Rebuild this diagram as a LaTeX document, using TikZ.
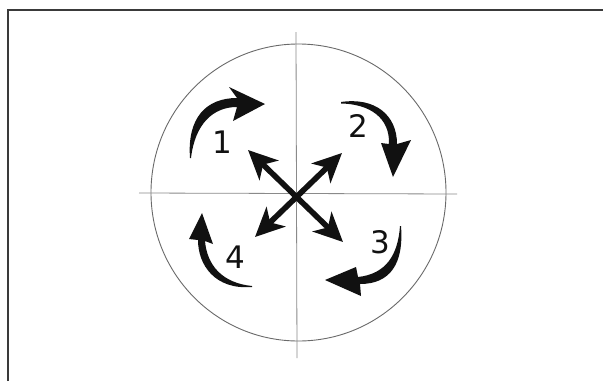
\documentclass[tikz,border=0pt]{standalone}
\usepackage{fontspec}
\setmainfont{DejaVu Sans}
\usepackage{tikz}
\usetikzlibrary{arrows.meta}
\definecolor{AxisGray}{HTML}{8A8A8A}
\definecolor{RimGray}{HTML}{6A6A6A}
\definecolor{FrameDark}{HTML}{3A3A3A}
\definecolor{InkBlack}{HTML}{111111}

\begin{document}
\begin{tikzpicture}[x=1pt, y=-1pt,
    digit/.style={inner sep=0pt, text=InkBlack, font=\fontsize{31}{31}\selectfont},
    crossarrow/.style={InkBlack, line width=5.6pt,
      {Stealth[length=29pt, width=27pt, inset=8pt]}-{Stealth[length=29pt, width=27pt, inset=8pt]}},
    swirl/.style={fill=InkBlack, draw=none}]
        \useasboundingbox (0,0) rectangle (603,381);
        \fill[white] (0,0) rectangle (603,381);
        % frame, only top and left edges visible
        \draw[FrameDark, line width=1.1pt] (8,381) -- (8,10) -- (603,10);
        % rim and axes
        \draw[RimGray, line width=0.9pt] (298.5,192.5) ellipse (147.5 and 148.5);
        \draw[AxisGray, line width=0.8pt] (296,32) -- (297,358);
        \draw[AxisGray, line width=0.8pt] (139,193) -- (457,194);
        % end points of the crossed arrows
        \coordinate (nw) at (248,150);
        \coordinate (se) at (343,242);
        \coordinate (ne) at (342,153);
        \coordinate (sw) at (255,237);
        \draw[crossarrow] (nw) -- (se);
        \draw[crossarrow] (ne) -- (sw);
        % curved arrow 1 (upper left)
        \fill[swirl] (190,158) .. controls (187,118) and (206,98) .. (237,98)
          -- (229,87) -- (265,104) -- (233,121) -- (237,107)
          .. controls (213,107) and (195,124) .. (191,158) -- cycle;
        % curved arrow 2 (upper right)
        \fill[swirl] (341,102) .. controls (375,97) and (397,115) .. (397,144)
          -- (411,140) -- (393,177) -- (381,143) -- (389,144)
          .. controls (390,118) and (370,104) .. (341,103.5) -- cycle;
        % curved arrow 3 (lower right)
        \fill[swirl] (401,226) .. controls (404,264) and (390,284) .. (360,284)
          -- (361,296) -- (325,280) -- (356,267) -- (358,277)
          .. controls (386,274) and (398,255) .. (400,226) -- cycle;
        % curved arrow 4 (lower left)
        \fill[swirl] (252,287) .. controls (215,290) and (198,265) .. (198,240)
          -- (189,239) -- (202,213) -- (213,244) -- (205,241)
          .. controls (207,265) and (222,283) .. (252,286) -- cycle;
        % quadrant numbers
        \node[digit] (lab1) at (222,142.5) {1};
        \node[digit] (lab2) at (358,126) {2};
        \node[digit] (lab3) at (380,242.5) {3};
        \node[digit] (lab4) at (235,256.7) {4};
      \end{tikzpicture}
\end{document}
